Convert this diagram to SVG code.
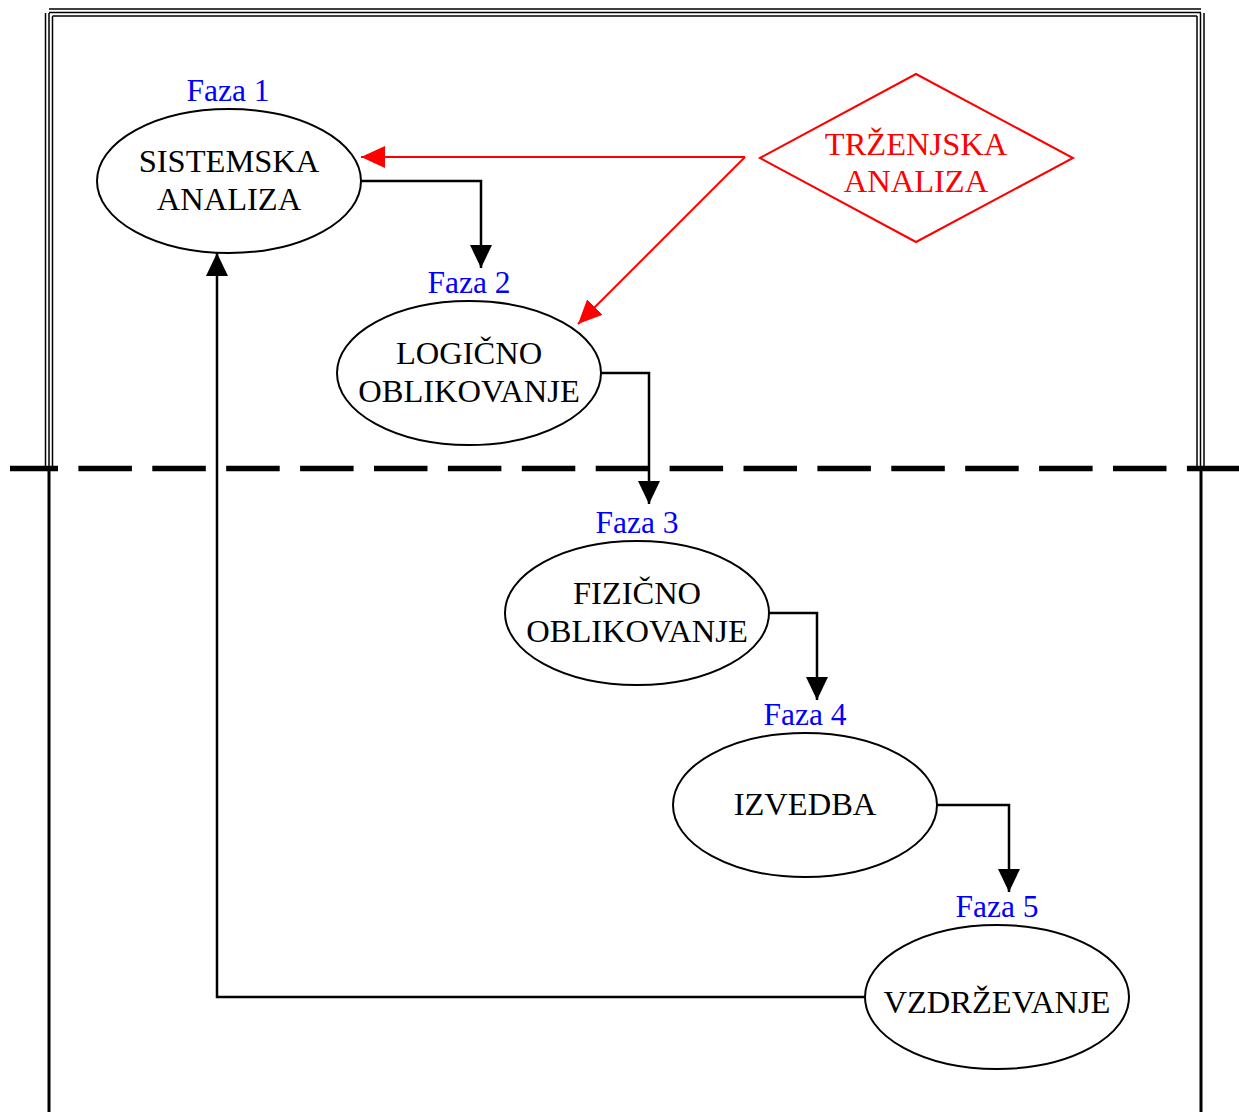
<svg xmlns="http://www.w3.org/2000/svg" width="1239" height="1112" viewBox="0 0 1239 1112">
<style>
.node{fill:#fff;stroke:#000;stroke-width:2}
.t{font-family:"Liberation Serif","Times New Roman",serif;font-size:32.5px;text-anchor:middle;fill:#000}
.faza{font-family:"Liberation Serif","Times New Roman",serif;font-size:31.5px;text-anchor:middle;fill:#0000ff}
.red{fill:#ff0000}
.b{fill:none;stroke:#000;stroke-width:1.5}
.c{fill:none;stroke:#000;stroke-width:2.5}
.rc{fill:none;stroke:#ff0000;stroke-width:2}
</style>
<defs>
<marker id="ab" markerUnits="userSpaceOnUse" markerWidth="23" markerHeight="22" refX="23" refY="11" orient="auto" viewBox="0 0 23 22"><path d="M0,0 L23,11 L0,22 Z" fill="#000"/></marker>
<marker id="ar" markerUnits="userSpaceOnUse" markerWidth="24" markerHeight="22" refX="24" refY="11" orient="auto" viewBox="0 0 24 22"><path d="M0,0 L24,11 L0,22 Z" fill="#ff0000"/></marker>
</defs>
<g id="frame">
<path class="b" d="M49,9 H1201 M49,12.5 H1201 M52.5,16 H1197"/>
<path class="b" d="M45.5,13 V468 M49,13 V468 M52.5,16 V468"/>
<path class="b" d="M1197,16 V468 M1200.5,13 V468 M1204,13 V468"/>
<path d="M49,468 V1112 M1201,468 V1112" stroke="#000" stroke-width="3" fill="none"/>
<line x1="10" y1="468.5" x2="1239" y2="468.5" stroke="#000" stroke-width="5.5" stroke-dasharray="53.5 20.4" stroke-dashoffset="5.5"/>
</g>
<g id="connectors">
<path class="c" d="M361,181 H481 V268" marker-end="url(#ab)"/>
<path class="c" d="M601,373 H649 V504" marker-end="url(#ab)"/>
<path class="c" d="M769,613 H817 V700" marker-end="url(#ab)"/>
<path class="c" d="M937,805 H1009 V892" marker-end="url(#ab)"/>
<path class="c" d="M865,997 H217 V253" marker-end="url(#ab)"/>
<path class="rc" d="M745,157 H361" marker-end="url(#ar)"/>
<path class="rc" d="M745,157 L578,324" marker-end="url(#ar)"/>
</g>
<g id="n1">
<text class="faza" x="228" y="101">Faza 1</text>
<ellipse class="node" cx="229" cy="181" rx="132" ry="72"/>
<text class="t" x="229" y="172">SISTEMSKA</text>
<text class="t" x="229" y="210">ANALIZA</text>
</g>
<g id="n2">
<text class="faza" x="469" y="293">Faza 2</text>
<ellipse class="node" cx="469" cy="373" rx="132" ry="72"/>
<text class="t" x="469" y="364">LOGIČNO</text>
<text class="t" x="469" y="402">OBLIKOVANJE</text>
</g>
<g id="n3">
<text class="faza" x="637" y="533">Faza 3</text>
<ellipse class="node" cx="637" cy="613" rx="132" ry="72"/>
<text class="t" x="637" y="604">FIZIČNO</text>
<text class="t" x="637" y="642">OBLIKOVANJE</text>
</g>
<g id="n4">
<text class="faza" x="805" y="725">Faza 4</text>
<ellipse class="node" cx="805" cy="805" rx="132" ry="72"/>
<text class="t" x="805" y="815">IZVEDBA</text>
</g>
<g id="n5">
<text class="faza" x="997" y="917">Faza 5</text>
<ellipse class="node" cx="997" cy="997" rx="132" ry="72"/>
<text class="t" x="997" y="1013">VZDRŽEVANJE</text>
</g>
<g id="tr">
<polygon points="760,158 916,74 1073,158 916,242" fill="#fff" stroke="#ff0000" stroke-width="2"/>
<text class="t red" x="916" y="155">TRŽENJSKA</text>
<text class="t red" x="916" y="192">ANALIZA</text>
</g>
</svg>
